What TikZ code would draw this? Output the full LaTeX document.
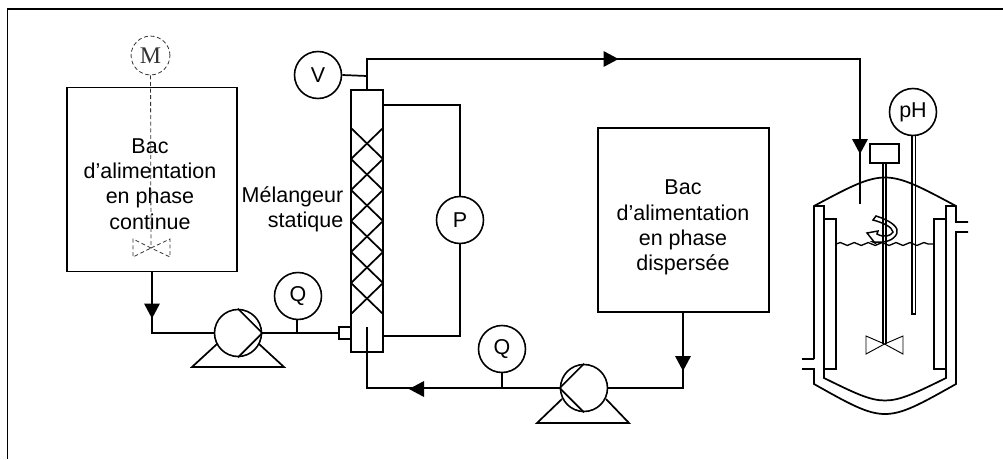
\documentclass[tikz,border=0pt]{standalone}
\usepackage{fontspec}
\setmainfont{Liberation Sans}
\newfontfamily\serifM{Liberation Serif}
\usetikzlibrary{decorations.pathmorphing}
\tikzset{
  line/.style={line width=1.3pt},
  bac/.style={draw,line width=1.3pt,minimum width=4.52cm,minimum height=4.88cm,inner sep=0pt},
  instr/.style={draw,circle,line width=1.2pt,fill=white,minimum size=1.245cm,inner sep=0pt,font=\fontsize{16.2}{16.2}\selectfont},
  legende/.style={align=center,inner sep=0pt,font=\fontsize{16.2}{19.1}\selectfont},
  cache/.style={line width=0.6pt,densely dashed,black!80},
  mince/.style={line width=0.7pt}
}
% arrowhead at a point, turned by an angle
\newcommand{\fleche}[2]{\fill[shift={(#1)},rotate=#2] (7.5,0) -- (-7.5,8) -- (-7.5,-8) -- cycle;}
\begin{document}
\begin{tikzpicture}[x=0.0265cm,y=-0.0265cm]
  \useasboundingbox (0,0) rectangle (1003,459);

  % The frame, open at the bottom and on the right.
  \draw[line width=1.5pt] (7.5,459) -- (7.5,9) -- (1003,9);

  % The tanks.
  \node[bac] (bacContinue) at (152,179.5) {};
  \node[bac] (bacDisperse) at (683.5,220) {};
  \node[legende] (texteContinue) at (150,184) {Bac\\d’alimentation\\en phase\\continue};
  \node[legende] (texteDisperse) at (683,227.5) {Bac\\d’alimentation\\en phase\\dispersée};

  % The hidden stirrer of the first tank.
  \node[draw,circle,cache,minimum size=1.03cm,inner sep=0pt,font=\serifM\fontsize{18}{18}\selectfont] (moteur) at (150.5,55.5) {M};
  \coordinate (heliceC) at (151,248);
  \draw[cache] (moteur) -- (heliceC);
  \draw[cache] (heliceC) -- (133,239) -- (133,257) -- cycle;
  \draw[cache] (heliceC) -- (170,239) -- (170,257) -- cycle;

  % The static mixer.
  \node[draw,line width=1.4pt,minimum width=0.848cm,minimum height=6.95cm,inner sep=0pt] (melangeur) at (367,221) {};
  \foreach \y in {128,159,190,221,252,283} {
    \draw[line] (351,\y) -- (383,\y+31);
    \draw[line] (383,\y) -- (351,\y+31);
  }
  \node[legende,align=right,anchor=east] (texteMelangeur) at (343.5,209) {Mélangeur\\statique};
  \node[draw,line width=1.1pt,minimum size=0.32cm,inner sep=0pt] (entree) at (345,333) {};

  % The instruments.
  \node[instr] (V) at (318,75) {V};
  \node[instr] (P) at (460,220) {P};
  \node[instr] (Qa) at (298,296) {Q};
  \node[instr] (Qb) at (502,349) {Q};
  \node[instr] (pH) at (913,112) {pH};

  % The pumps.
  \draw[line] (217,344) -- (192,367) -- (284,367) -- (259,344);
  \node[instr] (pompeA) at (238,333) {};
  \draw[line] (pompeA.north) -- (pompeA.east) -- (pompeA.south);
  \draw[line] (562,399) -- (537,423) -- (629,423) -- (606,399);
  \node[instr] (pompeB) at (584,388) {};
  \draw[line] (pompeB.north) -- (pompeB.west) -- (pompeB.south);

  % The pipes.
  \coordinate (sortieC) at (152,272);
  \coordinate (sortieD) at (683,312);
  \coordinate (plongeur) at (367,327);
  \coordinate (coude) at (367,59);
  \coordinate (arrivee) at (860,204);
  \draw[line] (bacContinue.south -| sortieC) |- (pompeA.west);
  \draw[line] (pompeA.east) -- (entree.west);
  \draw[line] (Qa.south -| 297,0) -- (297,333);
  \draw[line] (bacDisperse.south -| sortieD) |- (pompeB.east);
  \draw[line] (pompeB.west) -| (plongeur);
  \draw[line] (Qb.south) -- (502,389);
  \draw[line] (melangeur.north) -- (coude) -| (arrivee);
  \draw[line] (V.east) -- (367,76);
  \draw[line] (melangeur.north east |- 0,105) -| (P.north);
  \draw[line] (P.south) |- (melangeur.east |- 0,336);

  \fleche{152,311}{270}
  \fleche{683,363.5}{270}
  \fleche{611,59}{0}
  \fleche{860,146.5}{270}
  \fleche{416.5,389}{180}

  % The reactor: lid, jacket and vessel.
  \draw[line] (814,359) -- (814,206) .. controls (885,168) .. (956,206) -- (956,222) -- (968,222);
  \draw[line] (802,359) -- (814,359);
  \draw[line] (802,369) -- (814,369) -- (814,384) .. controls (885,424) .. (956,384) -- (956,232) -- (968,232);
  \draw[line] (814,206) -- (824,206) -- (824,378) .. controls (885,408) .. (946,378) -- (946,206) -- (956,206);

  % The baffles.
  \draw[line] (824,219) -- (836,219) -- (836,369) -- (824,369);
  \draw[line] (946,219) -- (934,219) -- (934,369) -- (946,369);

  % The liquid surface.
  \draw[line width=1pt,decorate,decoration={snake,amplitude=1.1pt,segment length=10.5pt}] (836,244) -- (934,244);

  % The swirl.
  \draw[line width=1.1pt,fill=white] (876,216) .. controls (892,221) and (899,228) .. (897,233)
    .. controls (894,241) and (884,243) .. (873,242) -- (875,243) -- (867,233) -- (878,231) -- (877,234)
    .. controls (884,238) and (891,236) .. (893,232) .. controls (892,227) and (884,223) .. (873,220) -- cycle;

  % The stirrer and the probe.
  \node[draw,line width=1.1pt,minimum width=0.77cm,minimum height=0.5cm,inner sep=0pt] (moteurR) at (884.5,153.5) {};
  \coordinate (heliceR) at (884.5,344);
  \draw[line] (883,163) -- (883,344);
  \draw[line] (886,163) -- (886,344);
  \draw[mince] (heliceR) -- (866,336) -- (866,354) -- cycle;
  \draw[mince] (heliceR) -- (903,336) -- (903,354) -- cycle;
  \draw[line] (912,135) -- (912,314) -- (915.5,314) -- (915.5,135);

\end{tikzpicture}
\end{document}
